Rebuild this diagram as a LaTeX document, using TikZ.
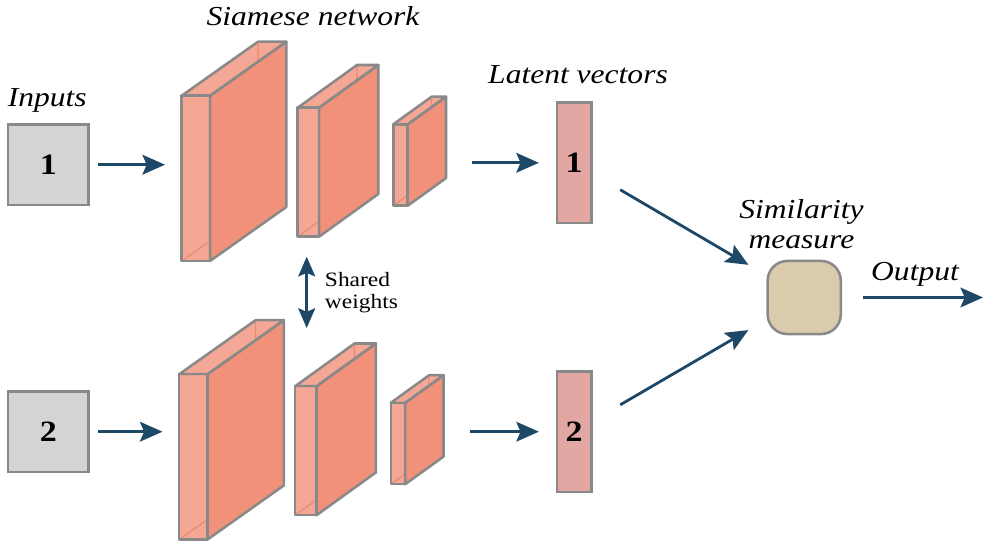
\documentclass[tikz,border=0pt]{standalone}
\usepackage{fontspec}
\setmainfont{Liberation Serif}[FakeStretch=1.15]
\usetikzlibrary{arrows.meta, positioning}

\definecolor{arrowblue}{HTML}{1E4868}
\definecolor{edgegray}{HTML}{898989}
\definecolor{salmon}{HTML}{F2917A}
\definecolor{salmondark}{HTML}{C9725F}
\definecolor{inputgray}{HTML}{D3D4D6}
\definecolor{latentpink}{HTML}{E2A6A3}
\definecolor{simbeige}{HTML}{DBCBAD}
\definecolor{textblack}{HTML}{231F20}

\begin{document}
\begin{tikzpicture}[
		x=0.025cm, y=-0.025cm,
		font=\color{textblack},
		arr/.style={arrowblue, line width=2pt, -{Stealth[length=16pt, width=14pt, inset=3pt]}},
		dblarr/.style={arrowblue, line width=2pt, {Stealth[length=14pt, width=12pt, inset=2.5pt]}-{Stealth[length=14pt, width=12pt, inset=2.5pt]}},
		inbox/.style={draw=edgegray, line width=1.8pt, fill=inputgray, minimum width=57.5pt, minimum height=57pt, font=\fontsize{21}{25}\selectfont\bfseries},
		latbox/.style={draw=edgegray, line width=1.8pt, fill=latentpink, minimum width=24.5pt, minimum height=85.5pt, font=\fontsize{21}{25}\selectfont\bfseries},
		simbox/.style={draw=edgegray, line width=1.8pt, fill=simbeige, rounded corners=14pt, minimum size=52pt},
		face/.style={draw=edgegray, line width=1.8pt, line join=round, fill=salmon},
		seeface/.style={face, fill opacity=0.8},
		hidden/.style={salmondark, line width=0.9pt},
		label/.style={anchor=base, font=\fontsize{19.5}{21.3}\selectfont\itshape, align=center}
		]
		
		\useasboundingbox (0,0) rectangle (983,546);
		
		% Inputs
		\node[inbox] (in1) at (48.3,164.7) {1};
		\node[inbox] (in2) at (48.3,431.7) {2};
		\node[label] at (47.3,106) {Inputs};
		
		% Two branches of the siamese network, same boxes shifted down
		\foreach \row/\sx/\sy in {1/0/0, 2/-2.5/278.5} {
			\begin{scope}[shift={(\sx,\sy)}]
				\foreach \fx/\fy/\w/\h/\dx/\dy in {181.7/95.7/28.3/165.3/76.3/-54, 297.7/107.7/21.3/129/59.3/-42.7, 393.3/124.3/14.4/81.4/38.3/-27.6} {
					% hidden back edges
					\draw[hidden] (\fx+\dx,\fy+\dy) -- (\fx+\dx,\fy+\dy+\h) -- (\fx,\fy+\h);
					\draw[hidden] (\fx+\dx,\fy+\dy+\h) -- (\fx+\w+\dx,\fy+\dy+\h);
					% side, top and front faces
					\draw[face] (\fx+\w,\fy) -- (\fx+\w+\dx,\fy+\dy) -- (\fx+\w+\dx,\fy+\dy+\h) -- (\fx+\w,\fy+\h) -- cycle;
					\draw[seeface] (\fx,\fy) -- (\fx+\dx,\fy+\dy) -- (\fx+\w+\dx,\fy+\dy) -- (\fx+\w,\fy) -- cycle;
					\draw[seeface] (\fx,\fy) rectangle (\fx+\w,\fy+\h);
				}
				\coordinate (enc\row-in) at (181.7,165);
				\coordinate (enc\row-out) at (446,162);
			\end{scope}
		}
		\node[label] at (313,25) {Siamese network};
		
		% Shared weights
		\coordinate (w1) at (306.7,256.7);
		\coordinate (w2) at (306.7,328);
		\draw[dblarr] (w1) -- (w2);
		\node[anchor=base west, align=left, font=\fontsize{14.5}{15.2}\selectfont] (shared) at (320,308) {Shared\\weights};
		
		% Latent vectors
		\node[latbox] (lat1) at (574.2,162.8) {1};
		\node[latbox] (lat2) at (574.2,431.7) {2};
		\node[label] at (578,83) {Latent vectors};
		
		% Similarity measure and output
		\node[simbox] (sim) at (804.2,297.5) {};
		\node[label] at (801.5,248) {Similarity\\measure};
		\coordinate (out) at (983,297.5);
		\node[label] at (915,280) {Output};
		
		% Connectors
		\foreach \i in {1,2} {
			\draw[arr, shorten <=5.7pt, shorten >=11.9pt] (in\i.east) -- (in\i -| enc\i-in);
			\draw[arr, shorten <=18.5pt, shorten >=12pt] (lat\i -| enc\i-out) -- (lat\i.west);
			\draw[arr, shorten <=37.9pt, shorten >=46pt] (lat\i.center) -- (sim.center);
		}
		\draw[arr, shorten <=15.2pt] (sim.east) -- (out);
		
	\end{tikzpicture}
\end{document}
